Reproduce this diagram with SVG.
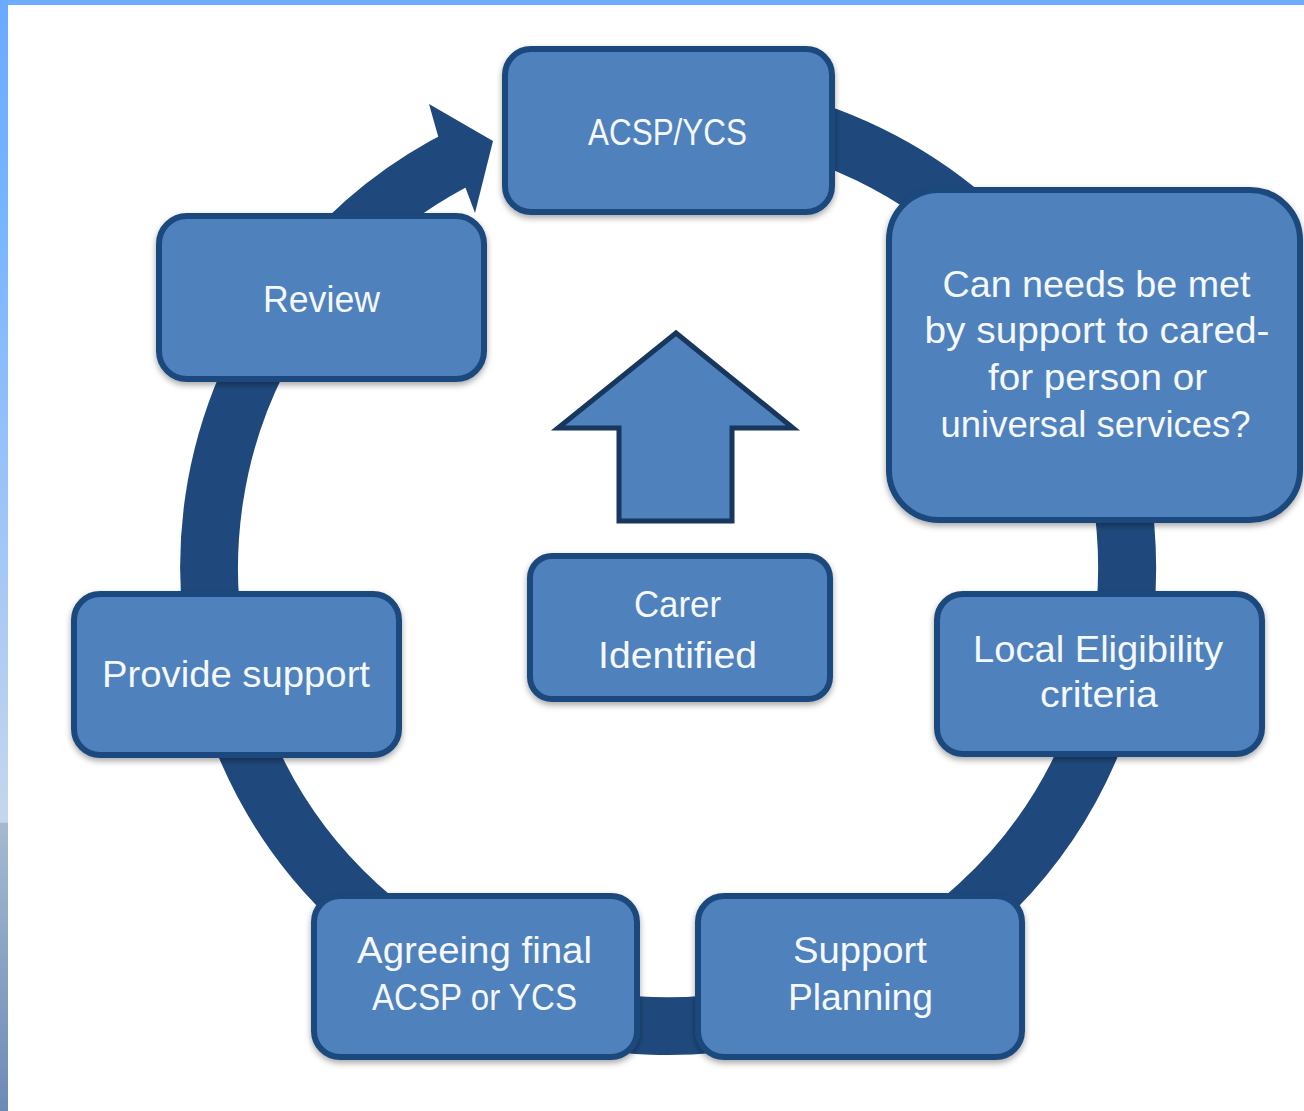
<svg xmlns="http://www.w3.org/2000/svg" width="1304" height="1111" viewBox="0 0 1304 1111">
<defs>
<linearGradient id="strip" x1="0" y1="0" x2="0" y2="1111" gradientUnits="userSpaceOnUse">
<stop offset="0" stop-color="#6aaaff"/>
<stop offset="0.2" stop-color="#78b5ff"/>
<stop offset="0.74" stop-color="#c6d6ee"/>
<stop offset="0.741" stop-color="#a6b9d1"/>
<stop offset="1" stop-color="#6b8bb6"/>
</linearGradient>
<filter id="sh" x="-10%" y="-10%" width="120%" height="130%">
<feDropShadow dx="0" dy="3" stdDeviation="3" flood-color="#000" flood-opacity="0.35"/>
</filter>
<style>
.box{fill:#4f81bd;stroke:#1f497d;stroke-width:6;filter:url(#sh)}
.t{font-family:"Liberation Sans",Arial,sans-serif;font-size:36px;fill:#f5f8fd;text-anchor:middle}
.ring{fill:none;stroke:#1f497d;stroke-width:58}
</style>
</defs>
<rect x="0" y="0" width="1304" height="1111" fill="#ffffff"/>
<rect x="0" y="0" width="1304" height="5" fill="#6dadff"/>
<rect x="0" y="0" width="8" height="1111" fill="url(#strip)"/>

<g id="connectors">
<path class="ring" d="M 668 108 A 459 459 0 1 1 466.8 154.5"/>
<polygon points="438.2,136.6 429,104 493,141 475,213 465.5,187.7" fill="#1f497d"/>
</g>

<g id="node-acsp">
<rect class="box" x="505" y="49" width="327" height="163" rx="26"/>
<text class="t" x="667.5" y="145" textLength="159" lengthAdjust="spacingAndGlyphs">ACSP/YCS</text>
</g>
<g id="node-can-needs">
<rect class="box" x="889" y="190" width="411" height="330" rx="50"/>
<text class="t" x="1096.5" y="297" textLength="308" lengthAdjust="spacingAndGlyphs">Can needs be met</text>
<text class="t" x="1097" y="343" textLength="345" lengthAdjust="spacingAndGlyphs">by support to cared-</text>
<text class="t" x="1097.5" y="390" textLength="219" lengthAdjust="spacingAndGlyphs">for person or</text>
<text class="t" x="1095.5" y="437" textLength="310" lengthAdjust="spacingAndGlyphs">universal services?</text>
</g>
<g id="node-local">
<rect class="box" x="937" y="594" width="325" height="160" rx="26"/>
<text class="t" x="1098" y="662" textLength="250" lengthAdjust="spacingAndGlyphs">Local Eligibility</text>
<text class="t" x="1099" y="707" textLength="118" lengthAdjust="spacingAndGlyphs">criteria</text>
</g>
<g id="node-support-planning">
<rect class="box" x="698" y="896" width="324" height="161" rx="26"/>
<text class="t" x="860" y="963" textLength="134" lengthAdjust="spacingAndGlyphs">Support</text>
<text class="t" x="860.5" y="1010" textLength="145" lengthAdjust="spacingAndGlyphs">Planning</text>
</g>
<g id="node-agreeing">
<rect class="box" x="314" y="896" width="323" height="161" rx="26"/>
<text class="t" x="474.5" y="963" textLength="235" lengthAdjust="spacingAndGlyphs">Agreeing final</text>
<text class="t" x="474.5" y="1010" textLength="205" lengthAdjust="spacingAndGlyphs">ACSP or YCS</text>
</g>
<g id="node-provide">
<rect class="box" x="74" y="594" width="325" height="161" rx="26"/>
<text class="t" x="236" y="687" textLength="268" lengthAdjust="spacingAndGlyphs">Provide support</text>
</g>
<g id="node-review">
<rect class="box" x="159" y="216" width="325" height="163" rx="28"/>
<text class="t" x="321.5" y="312" textLength="117" lengthAdjust="spacingAndGlyphs">Review</text>
</g>
<g id="node-up-arrow">
<polygon points="676,333 793,428 732,428 732,521 619,521 619,428 558,428" fill="#4f81bd" stroke="#17375e" stroke-width="5" stroke-linejoin="miter"/>
</g>
<g id="node-carer">
<rect class="box" x="530" y="556" width="300" height="143" rx="22"/>
<text class="t" x="677.5" y="617" textLength="87" lengthAdjust="spacingAndGlyphs">Carer</text>
<text class="t" x="677.5" y="668" textLength="159" lengthAdjust="spacingAndGlyphs">Identified</text>
</g>
</svg>
